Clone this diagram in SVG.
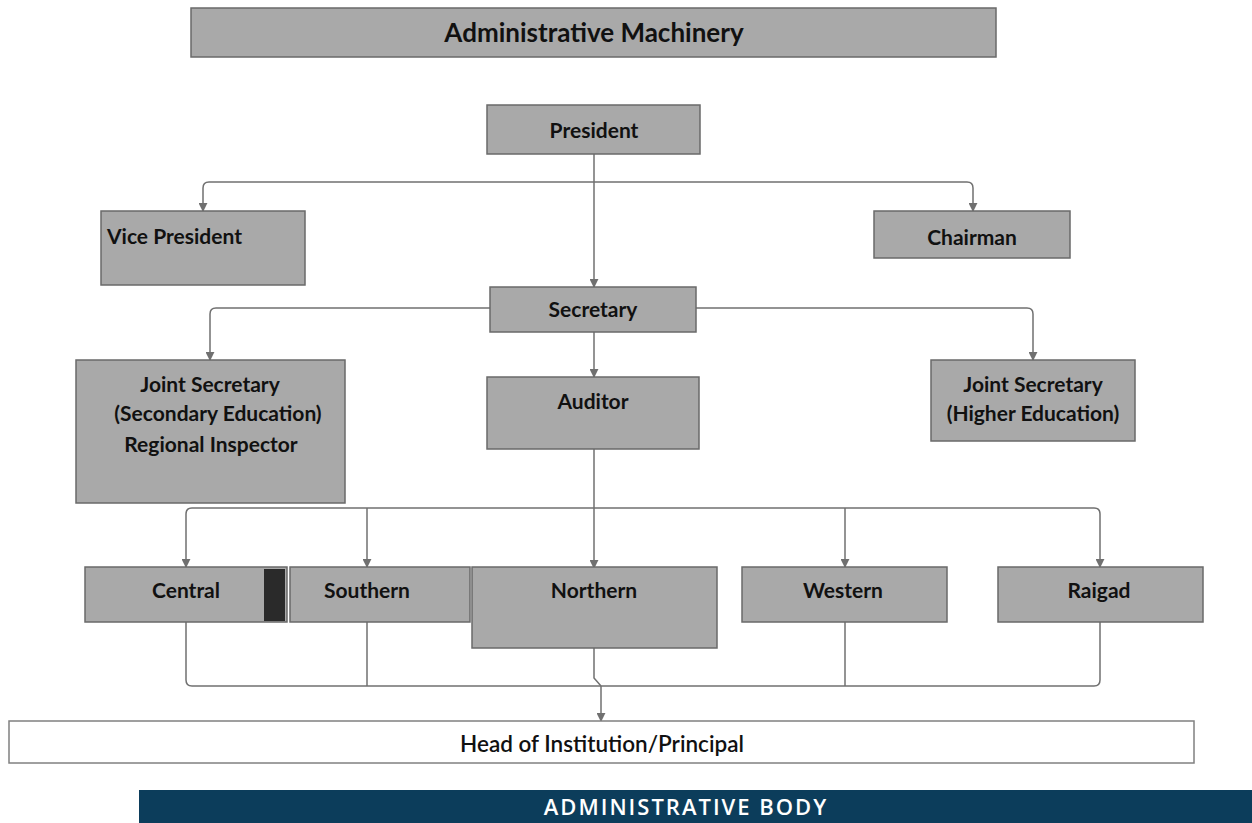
<svg xmlns="http://www.w3.org/2000/svg" width="1252" height="823" viewBox="0 0 1252 823">
<style>
.box{fill:#a9a9a9;stroke:#6a6a6a;stroke-width:1.5}
.t{font-family:Lato,"Open Sans","Liberation Sans",sans-serif;font-size:21px;font-weight:bold;fill:#111;text-anchor:middle}
.c{fill:none;stroke:#707070;stroke-width:1.5}
</style>
<defs>
<marker id="a" viewBox="0 0 10 10" refX="9" refY="5" markerWidth="9" markerHeight="9" orient="auto" markerUnits="userSpaceOnUse">
<path d="M0,0 L10,5 L0,10 z" fill="#707070"/>
</marker>
</defs>
<rect width="1252" height="823" fill="#fff"/>
<g id="connectors">
<path class="c" d="M594,154 V182" />
<path class="c" d="M594,182 H209 Q203,182 203,188 V211" marker-end="url(#a)"/>
<path class="c" d="M594,182 H967 Q973,182 973,188 V211" marker-end="url(#a)"/>
<path class="c" d="M594,182 V287" marker-end="url(#a)"/>
<path class="c" d="M490,308 H216 Q210,308 210,314 V360" marker-end="url(#a)"/>
<path class="c" d="M696,308 H1027 Q1033,308 1033,314 V360" marker-end="url(#a)"/>
<path class="c" d="M594,332 V377" marker-end="url(#a)"/>
<path class="c" d="M594,449 V568" marker-end="url(#a)"/>
<path class="c" d="M594,508 H192 Q186,508 186,514 V567" marker-end="url(#a)"/>
<path class="c" d="M367,508 V567" marker-end="url(#a)"/>
<path class="c" d="M594,508 H1094 Q1100,508 1100,514 V567" marker-end="url(#a)"/>
<path class="c" d="M845,508 V567" marker-end="url(#a)"/>
<path class="c" d="M186,622 V680 Q186,686 192,686 H1094 Q1100,686 1100,680 V622"/>
<path class="c" d="M367,622 V686"/>
<path class="c" d="M845,622 V686"/>
<path class="c" d="M594,648 V678 L601,686"/>
<path class="c" d="M601,686 V721" marker-end="url(#a)"/>
</g>
<g id="title">
<rect class="box" x="191" y="8" width="805" height="49"/>
<text class="t" x="594" y="42" style="font-size:26px">Administrative Machinery</text>
</g>
<g id="president">
<rect class="box" x="487" y="105" width="213" height="49"/>
<text class="t" x="594" y="138">President</text>
</g>
<g id="vice-president">
<rect class="box" x="101" y="211" width="204" height="74"/>
<text class="t" x="107" y="244" style="text-anchor:start">Vice President</text>
</g>
<g id="chairman">
<rect class="box" x="874" y="211" width="196" height="47"/>
<text class="t" x="972" y="245">Chairman</text>
</g>
<g id="secretary">
<rect class="box" x="490" y="287" width="206" height="45"/>
<text class="t" x="593" y="317">Secretary</text>
</g>
<g id="js-secondary">
<rect class="box" x="76" y="360" width="269" height="143"/>
<text class="t" x="210" y="392">Joint Secretary</text>
<text class="t" x="218" y="421">(Secondary Education)</text>
<text class="t" x="211" y="452">Regional Inspector</text>
</g>
<g id="auditor">
<rect class="box" x="487" y="377" width="212" height="72"/>
<text class="t" x="593" y="409">Auditor</text>
</g>
<g id="js-higher">
<rect class="box" x="931" y="360" width="204" height="81"/>
<text class="t" x="1033" y="392">Joint Secretary</text>
<text class="t" x="1033" y="421">(Higher Education)</text>
</g>
<g id="central">
<rect class="box" x="85" y="567" width="202" height="55"/>
<rect x="264" y="569" width="21" height="52" fill="#2a2a2a"/>
<text class="t" x="186" y="598">Central</text>
</g>
<g id="southern">
<rect class="box" x="290" y="567" width="180" height="55"/>
<text class="t" x="367" y="598">Southern</text>
</g>
<g id="northern">
<rect class="box" x="472" y="567" width="245" height="81"/>
<text class="t" x="594" y="598">Northern</text>
</g>
<g id="western">
<rect class="box" x="742" y="567" width="205" height="55"/>
<text class="t" x="843" y="598">Western</text>
</g>
<g id="raigad">
<rect class="box" x="998" y="567" width="205" height="55"/>
<text class="t" x="1099" y="598">Raigad</text>
</g>
<g id="head">
<rect x="9" y="721" width="1185" height="42" fill="#fff" stroke="#808080" stroke-width="1.5"/>
<text class="t" x="602" y="752" style="font-weight:600;font-size:22.5px">Head of Institution/Principal</text>
</g>
<g id="admin-body">
<rect x="139" y="790" width="1113" height="33" fill="#0c3d5b"/>
<text class="t" x="686" y="815" style="fill:#fff;font-weight:600;font-size:22px;font-family:'Open Sans',Lato,sans-serif;letter-spacing:2px">ADMINISTRATIVE BODY</text>
</g>
</svg>
